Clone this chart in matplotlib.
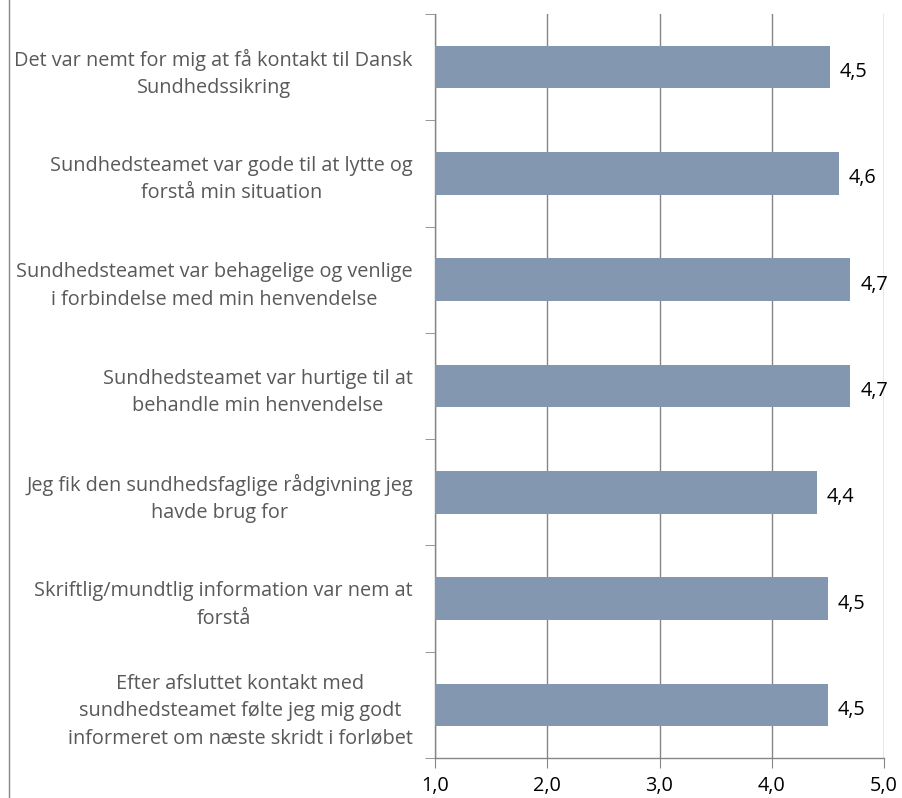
import matplotlib
matplotlib.use("Agg")
import matplotlib.pyplot as plt
from matplotlib.lines import Line2D
from matplotlib.transforms import offset_copy

categories = [
    "Det var nemt for mig at få kontakt til Dansk\nSundhedssikring",
    "Sundhedsteamet var gode til at lytte og\nforstå min situation",
    "Sundhedsteamet var behagelige og venlige\ni forbindelse med min henvendelse",
    "Sundhedsteamet var hurtige til at\nbehandle min henvendelse",
    "Jeg fik den sundhedsfaglige rådgivning jeg\nhavde brug for",
    "Skriftlig/mundtlig information var nem at\nforstå",
    "Efter afsluttet kontakt med\nsundhedsteamet følte jeg mig godt\ninformeret om næste skridt i forløbet",
]
values = [4.52, 4.6, 4.7, 4.7, 4.4, 4.5, 4.5]
value_labels = ["4,5", "4,6", "4,7", "4,7", "4,4", "4,5", "4,5"]
xticks = [1, 2, 3, 4, 5]
xtick_labels = ["1,0", "2,0", "3,0", "4,0", "5,0"]

plt.rcParams['font.family'] = ['Open Sans', 'DejaVu Sans']

W, H = 902, 798
fig = plt.figure(figsize=(W / 100, H / 100), dpi=100)
ax = fig.add_axes([435 / W, 1 - 758 / H, (884 - 435) / W, (758 - 14) / H])

n = len(categories)
ypos = list(range(n))
ax.barh(ypos, [v - 1 for v in values], left=1, height=0.4, color='#8497B0', zorder=3)

ax.set_xlim(1, 5)
ax.set_ylim(n - 0.5, -0.5)

gray = '#868686'
fs = 14.3
ax.set_xticks(xticks)
ax.set_xticklabels(xtick_labels, fontsize=fs, color='black')
ax.grid(axis='x', color=gray, linewidth=1.0, zorder=0)
ax.tick_params(axis='x', direction='out', length=7, color=gray, pad=6)

ax.set_yticks(ypos)
ax.set_yticklabels(categories, fontsize=fs, color='#595959', multialignment='center', linespacing=1.5)
ax.tick_params(axis='y', which='major', length=0, pad=16)
ax.set_yticks([i - 0.5 for i in range(n + 1)], minor=True)
ax.tick_params(axis='y', which='minor', direction='out', length=7, color=gray)

for s in ['top', 'right']:
    ax.spines[s].set_visible(False)
for s in ['left', 'bottom']:
    ax.spines[s].set_color(gray)
    ax.spines[s].set_linewidth(1.0)

for y, v, lab in zip(ypos, values, value_labels):
    tr = offset_copy(ax.transData, fig=fig, x=10, y=-5, units='dots')
    ax.text(v, y, lab, transform=tr, ha='left', va='center', fontsize=fs, color='black', zorder=4)

fig.add_artist(Line2D([8.5 / W, 8.5 / W], [0, 1], color=gray, linewidth=1.0, transform=fig.transFigure))

fig.savefig("out.png", dpi=100)
